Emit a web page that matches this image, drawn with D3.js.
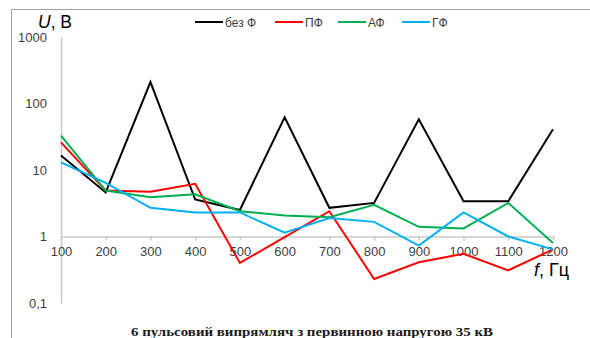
<!DOCTYPE html>
<html><head><meta charset="utf-8">
<script src="https://cdn.jsdelivr.net/npm/d3@7"></script>
<style>
html,body{margin:0;padding:0;background:#fff;}
svg{display:block;}
</style>
</head><body>
<svg id="chart" width="590" height="338"></svg>
<script>
const categories = ["100","200","300","400","500","600","700","800","900","1000","1100","1200"];
const bezF = [16.5, 4.6, 210, 3.6, 2.5, 62, 2.7, 3.2, 58, 3.4, 3.4, 41];
const pF   = [26, 4.9, 4.7, 6.2, 0.40, 0.98, 2.4, 0.23, 0.41, 0.55, 0.31, 0.64];
const aF   = [33, 4.9, 3.9, 4.3, 2.4, 2.07, 1.95, 3.0, 1.4, 1.32, 3.2, 0.8];
const gF   = [13, 6.4, 2.7, 2.3, 2.3, 1.14, 1.9, 1.66, 0.73, 2.3, 1.0, 0.64];
const seriesNames = ["без Ф", "ПФ", "АФ", "ГФ"];
const seriesColors = ["#000000", "#ff0000", "#00b050", "#00b0f0"];
const yTicks = [0.1, 1, 10, 100, 1000];
const yTickLabels = ["0,1", "1", "10", "100", "1000"];
const caption = "6 пульсовий випрямляч з первинною напругою 35 кВ";

const seriesValues = [bezF, pF, aF, gF];
const svg = d3.select("#chart");
const font = "'Liberation Sans', Arial, sans-serif";

// frame
svg.append("path").attr("d", "M11.5,338 V9.5 H590").attr("fill","none").attr("stroke","#a0a0a0").attr("stroke-width",1);

const x = d3.scalePoint().domain(categories).range([61, 553]);
const y = d3.scaleLog().domain([0.1, 1000]).range([303, 37]);

// y axis
const yAxis = svg.append("g").attr("transform","translate(61,0)")
  .call(d3.axisLeft(y).tickValues(yTicks).tickSize(0).tickPadding(14)
    .tickFormat(d => yTickLabels[yTicks.indexOf(d)]));
yAxis.select(".domain").attr("stroke","#c8c8c8").attr("stroke-width",1.5);
yAxis.selectAll("text").attr("font-family", font).attr("font-size", 13).attr("fill","#404040");

// x axis at value 1
const xAxis = svg.append("g").attr("transform",`translate(0,${y(1)})`)
  .call(d3.axisBottom(x).tickSize(4).tickSizeOuter(0).tickPadding(6));
xAxis.select(".domain").attr("stroke","#c8c8c8").attr("stroke-width",1.5);
xAxis.selectAll(".tick line").attr("stroke","#c8c8c8").attr("stroke-width",1.5);
xAxis.selectAll("text").attr("font-family", font).attr("font-size", 13).attr("fill","#404040");

// lines
const line = d3.line().x((d,i) => x(categories[i])).y(d => y(d));
seriesValues.forEach((vals, k) => {
  svg.append("path").datum(vals).attr("d", line)
    .attr("fill","none").attr("stroke", seriesColors[k]).attr("stroke-width", 2)
    .attr("stroke-linejoin","miter");
});

// legend
const legendX = [195, 275, 338, 402];
const lg = svg.append("g");
seriesNames.forEach((n, k) => {
  lg.append("line").attr("x1", legendX[k]).attr("x2", legendX[k] + 28)
    .attr("y1", 22).attr("y2", 22).attr("stroke", seriesColors[k]).attr("stroke-width", 2);
  lg.append("text").attr("x", legendX[k] + 30).attr("y", 26.5)
    .attr("font-family", font).attr("font-size", 12).attr("fill","#404040").text(n);
});

// axis titles
const ut = svg.append("text").attr("x", 38).attr("y", 27.5).attr("font-family", font).attr("font-size", 17.5).attr("fill","#000");
ut.append("tspan").attr("font-style","italic").text("U");
ut.append("tspan").text(", В");
const ft = svg.append("text").attr("x", 534).attr("y", 276).attr("font-family", font).attr("font-size", 18).attr("fill","#000");
ft.append("tspan").attr("font-style","italic").text("f");
ft.append("tspan").text(", Гц");

// caption
svg.append("text").attr("x", 131).attr("y", 335.5)
  .attr("textLength", 362).attr("lengthAdjust", "spacingAndGlyphs")
  .attr("font-family","'Liberation Serif', 'Times New Roman', serif").attr("font-size", 13)
  .attr("font-weight", "bold").attr("fill","#1a1a1a").text(caption);
</script>
</body></html>
